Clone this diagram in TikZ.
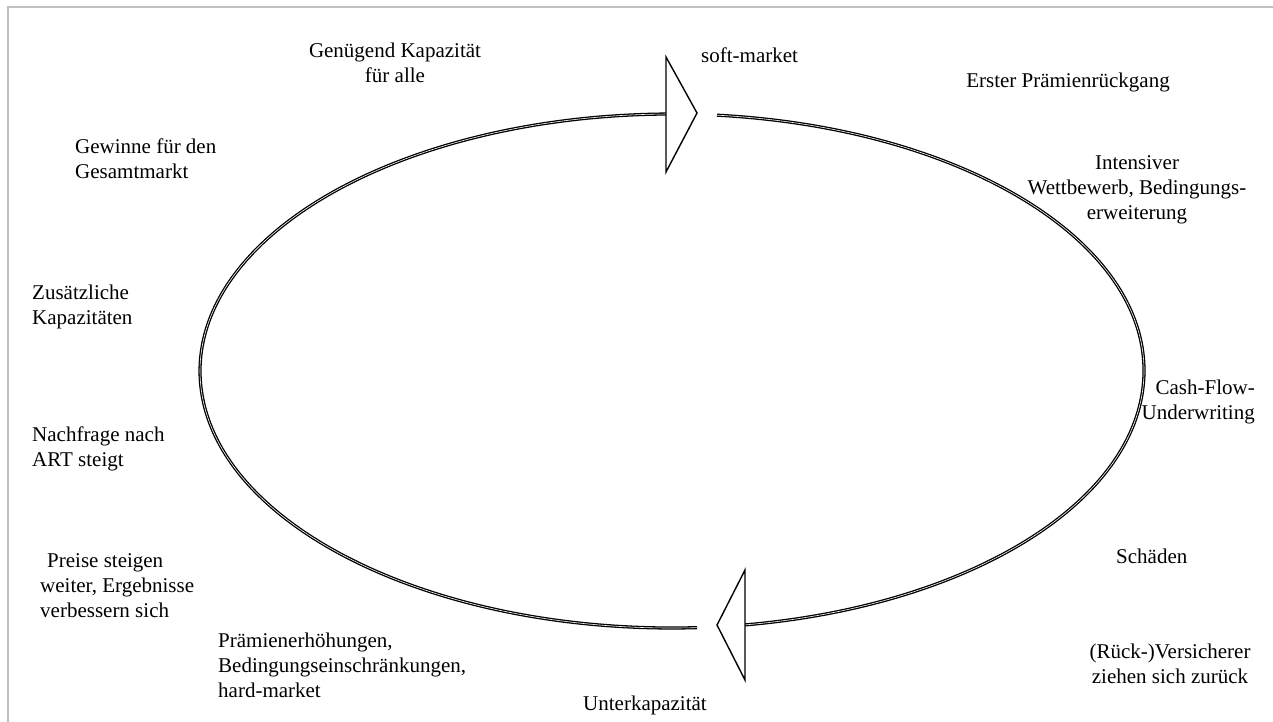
\documentclass[tikz,border=0pt]{standalone}
\usepackage{fontspec}
\setmainfont{Liberation Serif}
\definecolor{framegray}{RGB}{192,192,192}
\begin{document}
\begin{tikzpicture}[x=1pt,y=1pt,
  lbl/.style={font=\fontsize{21}{25}\selectfont, inner sep=0pt, execute at begin node=\strut},
  cycleline/.style={line width=1.3pt, double=white, double distance=0.6pt},
  headtri/.style={draw=black, fill=white, line width=1.4pt, line join=miter}]
\useasboundingbox (0,0) rectangle (1273,-722);

% frame around the figure
\draw[line width=2pt, framegray] (8,-740) -- (8,-7) -- (1290,-7);

% the cycle: two elliptic arcs, running clockwise
\coordinate (c) at (672,-371);
\draw[cycleline] (c) ++(84.53:472pt and 257pt)
  arc[start angle=84.53, end angle=-81.1, x radius=472pt, y radius=257pt];
\draw[cycleline] (c) ++(-86.96:472pt and 257pt)
  arc[start angle=-86.96, end angle=-269.27, x radius=472pt, y radius=257pt];

% open arrowheads
\draw[headtri] (666,-57) -- (697,-113) -- (666,-172) -- cycle;
\draw[headtri] (745,-570) -- (717,-625) -- (745,-680) -- cycle;

% phases of the cycle
\node[lbl, anchor=north, align=center] (kap) at (395,-42.5) {Genügend Kapazität\\für alle};
\node[lbl, anchor=north west] (soft) at (701,-44.5) {soft-market};
\node[lbl, anchor=north] (erst) at (1068,-69.5) {Erster Prämienrückgang};
\node[lbl, anchor=north, align=center] (wett) at (1137,-155.5) {Intensiver\\Wettbewerb, Bedingungs-\\erweiterung};
\node[lbl, anchor=north east, align=right] (cash) at (1255,-379.5) {Cash-Flow-\\Underwriting};
\node[lbl, anchor=north west] (schad) at (1116,-545.5) {Schäden};
\node[lbl, anchor=north, align=center] (rueck) at (1170,-643.5) {(Rück-)Versicherer\\ziehen sich zurück};
\node[lbl, anchor=north] (unter) at (645,-692.5) {Unterkapazität};
\node[lbl, anchor=north west, align=left] (hard) at (218,-632.5) {Prämienerhöhungen,\\Bedingungseinschränkungen,\\hard-market};
\node[lbl, anchor=north west, align=left] (preis) at (40,-553.5) {\hspace*{7pt}Preise steigen\\weiter, Ergebnisse\\verbessern sich};
\node[lbl, anchor=north west, align=left] (nachf) at (32,-426.5) {Nachfrage nach\\ART steigt};
\node[lbl, anchor=north west, align=left] (zus) at (32,-284.5) {Zusätzliche\\Kapazitäten};
\node[lbl, anchor=north west, align=left] (gew) at (75,-138.5) {Gewinne für den\\Gesamtmarkt};
\end{tikzpicture}
\end{document}
